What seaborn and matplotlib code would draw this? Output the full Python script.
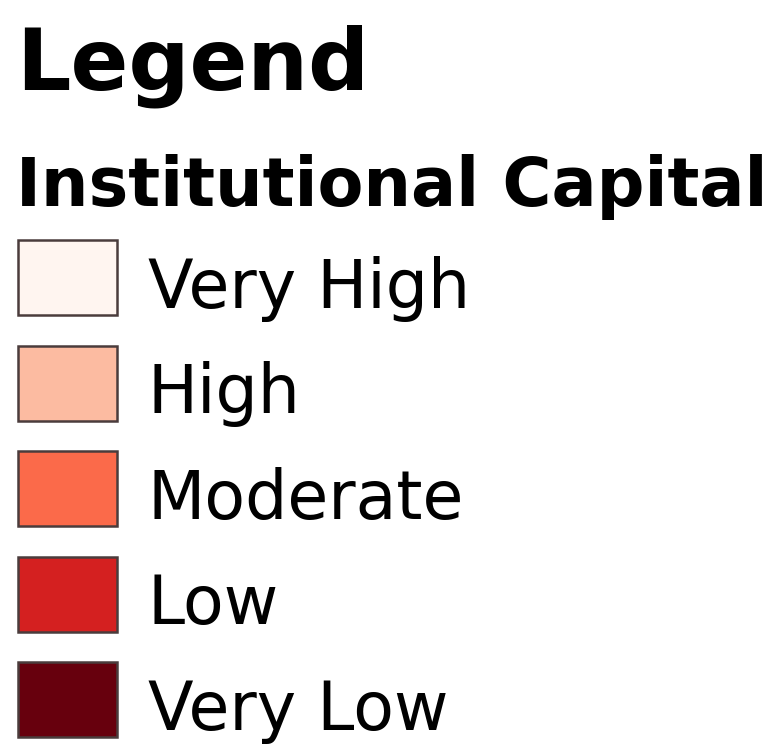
import matplotlib
matplotlib.use("Agg")
import matplotlib.pyplot as plt
import seaborn as sns

# Legend classes, top to bottom
categories = ['Very High', 'High', 'Moderate', 'Low', 'Very Low']
class_colors = ['#fff5f0', '#fcbba1', '#fb6a4a', '#d42020', '#67000d']
class_rank = [0, 1, 2, 3, 4]
title = 'Legend'
subtitle = 'Institutional Capital'

sns.set_theme(style='white')
plt.rcParams['font.family'] = ['DejaVu Sans']
plt.rcParams['text.color'] = 'black'

W, H = 782, 746
fig = plt.figure(figsize=(W / 100, H / 100), dpi=100)
ax = fig.add_axes([0, 0, 1, 1])
ax.set_xlim(0, W)
ax.set_ylim(H, 0)
ax.axis('off')

# swatch rows in pixel space
row0, step = 277.5, 105.5
ys = [row0 + r * step for r in class_rank]
ax.barh(ys, [99] * len(ys), height=75, left=18, color=class_colors,
        edgecolor='#4a3c3c', linewidth=1.8)

for y, lab in zip(ys, categories):
    ax.text(148, y + 30, lab, fontsize=48, color='black', va='baseline', ha='left')

ax.text(16, 90, title, fontsize=61.5, fontweight='bold', color='black',
        va='baseline', ha='left')
ax.text(16, 206, subtitle, fontsize=48.2, fontweight='bold', color='black',
        va='baseline', ha='left')

fig.savefig('out.png', dpi=100, facecolor='white')
